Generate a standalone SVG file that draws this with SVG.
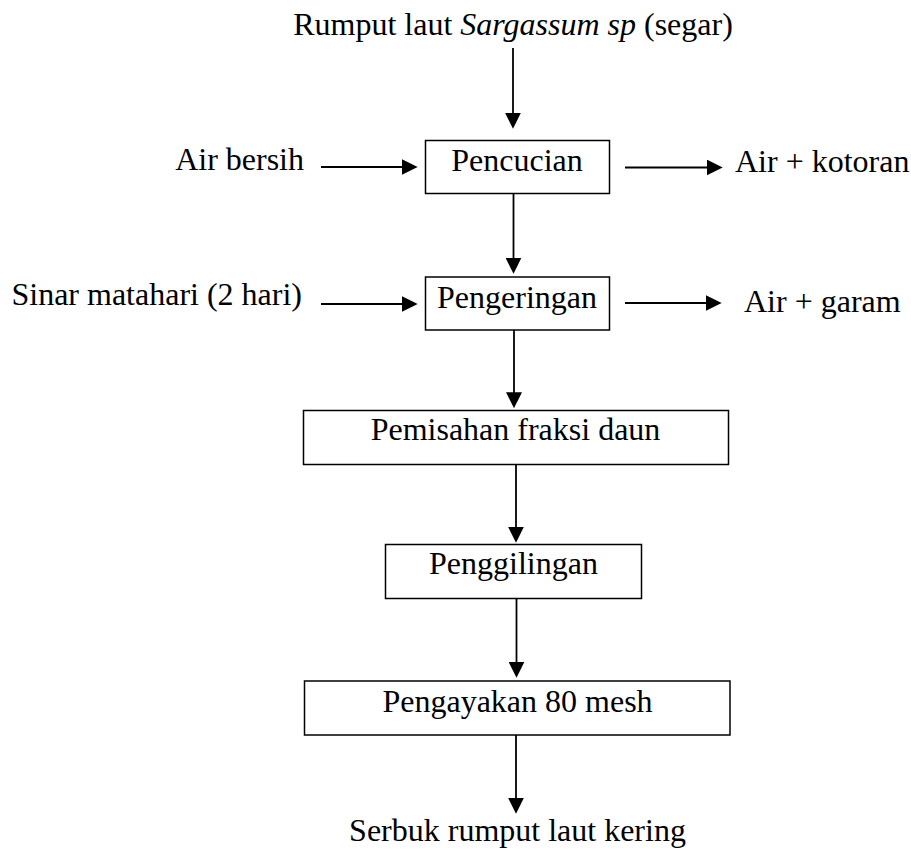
<svg xmlns="http://www.w3.org/2000/svg" width="911" height="852" viewBox="0 0 911 852">
  <style>
    text { font-family: "Liberation Serif", "Times New Roman", serif; font-size: 32px; fill: #000; }
    .mid { text-anchor: middle; }
    .end { text-anchor: end; }
    .box { fill: #fff; stroke: #000; stroke-width: 1.5; }
    .flow { stroke: #000; stroke-width: 1.8; fill: none; marker-end: url(#head); }
  </style>
  <defs>
    <!-- solid triangular arrowhead; tip lies 10px past the line end -->
    <marker id="head" markerUnits="userSpaceOnUse" markerWidth="16" markerHeight="16" viewBox="0 0 15 15" refX="5" refY="7.5" orient="auto">
      <path d="M0,0 L15,7.5 L0,15 z" fill="#000"/>
    </marker>
  </defs>

  <rect width="911" height="852" fill="#fff"/>

  <!-- connectors -->
  <g id="connectors">
    <line class="flow" x1="513" y1="48" x2="513" y2="118"/>
    <line class="flow" x1="321" y1="167" x2="407" y2="167"/>
    <line class="flow" x1="625" y1="167.5" x2="712" y2="167.5"/>
    <line class="flow" x1="513.5" y1="193" x2="513.5" y2="263"/>
    <line class="flow" x1="321" y1="304" x2="407" y2="304"/>
    <line class="flow" x1="625" y1="303" x2="711" y2="303"/>
    <line class="flow" x1="514" y1="328" x2="514" y2="397.5"/>
    <line class="flow" x1="516" y1="462" x2="516" y2="532"/>
    <line class="flow" x1="516.5" y1="598" x2="516.5" y2="667"/>
    <line class="flow" x1="516" y1="735" x2="516" y2="803"/>
  </g>

  <!-- source material -->
  <g id="input">
    <text class="mid" x="513" y="35">Rumput laut <tspan font-style="italic">Sargassum sp</tspan> (segar)</text>
  </g>

  <g id="air-bersih">
    <text class="end" x="304" y="170">Air bersih</text>
  </g>

  <g id="pencucian">
    <rect class="box" x="425.5" y="140.5" width="184" height="53"/>
    <text class="mid" x="517" y="171">Pencucian</text>
  </g>

  <g id="air-kotoran">
    <text x="735" y="171.5">Air + kotoran</text>
  </g>

  <g id="sinar-matahari">
    <text class="end" x="302" y="305">Sinar matahari (2 hari)</text>
  </g>

  <g id="pengeringan">
    <rect class="box" x="425.5" y="277" width="184" height="53"/>
    <text class="mid" x="517" y="307.5">Pengeringan</text>
  </g>

  <g id="air-garam">
    <text x="744" y="312">Air + garam</text>
  </g>

  <g id="pemisahan">
    <rect class="box" x="303.5" y="410.5" width="425" height="54"/>
    <text class="mid" x="515.5" y="440">Pemisahan fraksi daun</text>
  </g>

  <g id="penggilingan">
    <rect class="box" x="385.5" y="544.5" width="256" height="54"/>
    <text class="mid" x="513.5" y="573.5">Penggilingan</text>
  </g>

  <g id="pengayakan">
    <rect class="box" x="304.5" y="681" width="425.5" height="54"/>
    <text class="mid" x="517.5" y="711.5">Pengayakan 80 mesh</text>
  </g>

  <g id="output">
    <text class="mid" x="517.5" y="841">Serbuk rumput laut kering</text>
  </g>
</svg>
